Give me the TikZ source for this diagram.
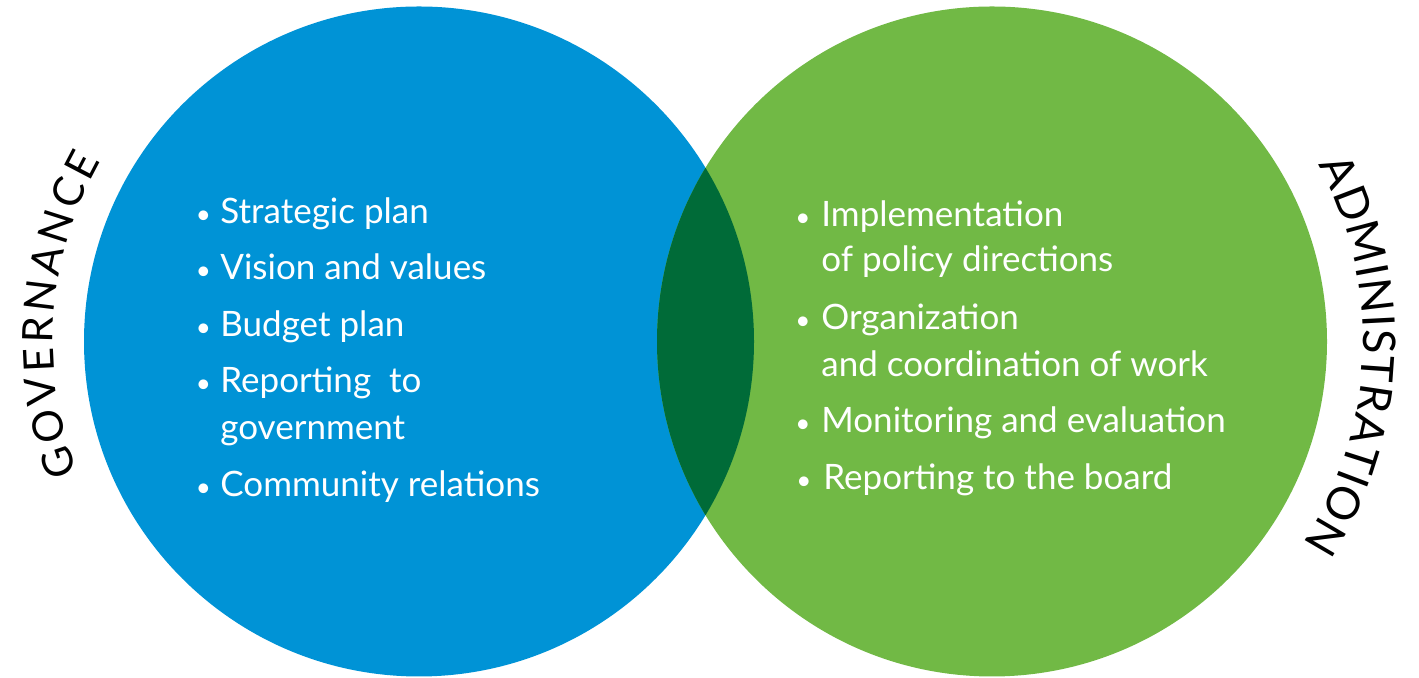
\documentclass[tikz,border=0pt]{standalone}
\usepackage{fontspec}
\setmainfont{Lato}
\usetikzlibrary{decorations.text,calc}
\definecolor{gblue}{RGB}{0,147,214}
\definecolor{ggreen}{RGB}{113,185,69}
\definecolor{gdark}{RGB}{0,107,56}
\begin{document}
\begin{tikzpicture}[x=0.5pt,y=0.5pt,
  itemtext/.style={text=white, font=\fontsize{17.5}{21}\selectfont, inner sep=0pt, anchor=base west},
  bul/.style={text=white, font=\fontsize{13}{15}\selectfont, inner sep=0pt, anchor=base},
  ]
\useasboundingbox (0,0) rectangle (1419,678);
\coordinate (cl) at (419,336.5);
\coordinate (cr) at (992,336.5);
\fill[gblue] (cl) circle[radius=167.5pt];
\fill[ggreen] (cr) circle[radius=167.5pt];
\begin{scope}
  \clip (cl) circle[radius=167.5pt];
  \fill[gdark] (cr) circle[radius=167.5pt];
\end{scope}

% left items
\node[bul] (lb1) at (203.5,454) {•};
\node[itemtext] (l1) at (220,454) {Strategic plan};
\node[bul] (lb2) at (203.5,398) {•};
\node[itemtext] (l2) at (220,398) {Vision and values};
\node[bul] (lb3) at (203.5,341) {•};
\node[itemtext] (l3) at (220,341) {Budget plan};
\node[bul] (lb4) at (203.5,285) {•};
\node[itemtext] (l4) at (220,285) {Reporting\ \ to};
\node[itemtext] (l4b) at (220,238) {government};
\node[bul] (lb5) at (203.5,181) {•};
\node[itemtext] (l5) at (220,181) {Community relations};

% right items
\node[bul] (rb1) at (803,451.3) {•};
\node[itemtext] (r1) at (821,451.3) {Implementation};
\node[itemtext] (r1b) at (821,406.3) {of policy directions};
\node[bul] (rb2) at (803,348) {•};
\node[itemtext] (r2) at (821,348) {Organization};
\node[itemtext] (r2b) at (821,301.3) {and coordination of work};
\node[bul] (rb3) at (803,245) {•};
\node[itemtext] (r3) at (821,245) {Monitoring and evaluation};
\node[bul] (rb4) at (804,188) {•};
\node[itemtext] (r4) at (823,188) {Reporting to the board};

% curved labels
\path[decorate, decoration={text along path,
    text={|\fontsize{21}{21}\selectfont|GOVERNANCE}, text align={fit to path}}]
  ($(cl)+(201:183pt)$) arc[start angle=201, end angle=150.5, radius=183pt];
\path[decorate, decoration={text along path,
    text={|\fontsize{22.5}{22.5}\selectfont|ADMINISTRATION}, text align={fit to path}}]
  ($(cr)+(28.4:185.5pt)$) arc[start angle=28.4, end angle=-33, radius=185.5pt];
\end{tikzpicture}
\end{document}
